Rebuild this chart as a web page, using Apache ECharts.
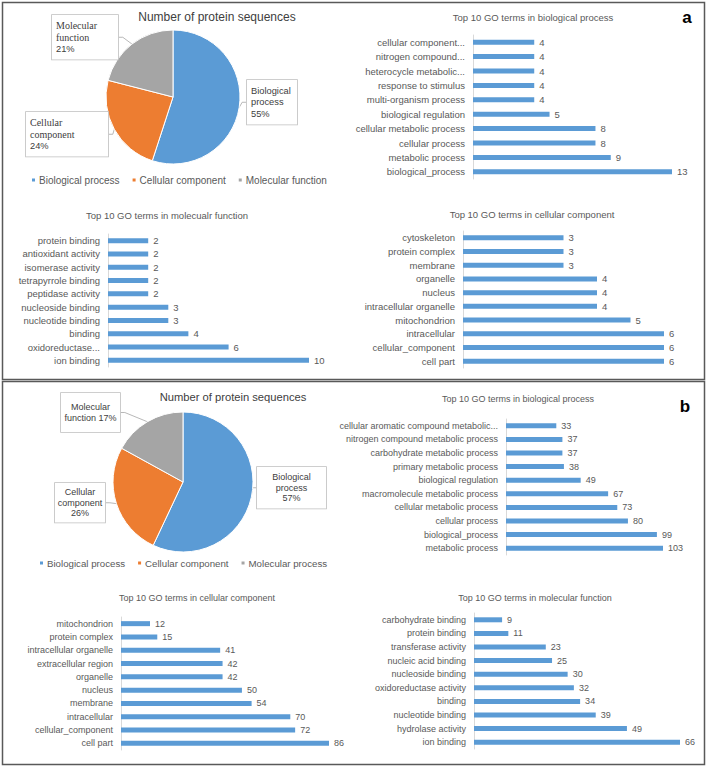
<!DOCTYPE html>
<html><head><meta charset="utf-8">
<script src="https://cdn.jsdelivr.net/npm/echarts@6/dist/echarts.min.js"></script>
<style>html,body{margin:0;padding:0;background:#fff}#c{width:709px;height:768px}</style>
</head><body><div id="c"></div>
<script>
// ---------- data ----------
const pieNamesA = ['Biological process', 'Cellular component', 'Molecular function'];
const pieValuesA = [55, 24, 21];
const pieTextA = ['Biological\nprocess', 'Cellular\ncomponent', 'Molecular\nfunction'];
const pieNamesB = ['Biological process', 'Cellular component', 'Molecular process'];
const pieValuesB = [57, 26, 17];
const pieTextB = ['Biological\nprocess\n', 'Cellular\ncomponent\n', 'Molecular\nfunction '];

const aBPCats = ['cellular component...', 'nitrogen compound...', 'heterocycle metabolic...', 'response to stimulus', 'multi-organism process', 'biological regulation', 'cellular metabolic process', 'cellular process', 'metabolic process', 'biological_process'];
const aBPVals = [4, 4, 4, 4, 4, 5, 8, 8, 9, 13];
const aMFCats = ['protein binding', 'antioxidant activity', 'isomerase activity', 'tetrapyrrole binding', 'peptidase activity', 'nucleoside binding', 'nucleotide binding', 'binding', 'oxidoreductase...', 'ion binding'];
const aMFVals = [2, 2, 2, 2, 2, 3, 3, 4, 6, 10];
const aCCCats = ['cytoskeleton', 'protein complex', 'membrane', 'organelle', 'nucleus', 'intracellular organelle', 'mitochondrion', 'intracellular', 'cellular_component', 'cell part'];
const aCCVals = [3, 3, 3, 4, 4, 4, 5, 6, 6, 6];

const bBPCats = ['cellular aromatic compound metabolic...', 'nitrogen compound metabolic process', 'carbohydrate metabolic process', 'primary metabolic process', 'biological regulation', 'macromolecule metabolic process', 'cellular metabolic process', 'cellular process', 'biological_process', 'metabolic process'];
const bBPVals = [33, 37, 37, 38, 49, 67, 73, 80, 99, 103];
const bCCCats = ['mitochondrion', 'protein complex', 'intracellular organelle', 'extracellular region', 'organelle', 'nucleus', 'membrane', 'intracellular', 'cellular_component', 'cell part'];
const bCCVals = [12, 15, 41, 42, 42, 50, 54, 70, 72, 86];
const bMFCats = ['carbohydrate binding', 'protein binding', 'transferase activity', 'nucleic acid binding', 'nucleoside binding', 'oxidoreductase activity', 'binding', 'nucleotide binding', 'hydrolase activity', 'ion binding'];
const bMFVals = [9, 11, 23, 25, 30, 32, 34, 39, 49, 66];

const titles = {
  pie: 'Number of protein sequences',
  bp: 'Top 10 GO terms in biological process',
  mfA: 'Top 10 GO terms in molecualr function',
  mfB: 'Top 10 GO terms in molecular function',
  cc: 'Top 10 GO terms in cellular component'
};

// ---------- styling / layout ----------
const BLUE = '#5B9BD5', ORANGE = '#ED7D31', GRAY = '#A5A5A5';
const PIE_COLORS = [BLUE, ORANGE, GRAY];
const SANS = '"Liberation Sans", Arial, sans-serif';
const SERIF = '"Liberation Serif", "Times New Roman", serif';
const TXT = '#595959';

const chart = echarts.init(document.getElementById('c'), null, {renderer: 'svg'});

const barPanels = [
  {cats: aBPCats, vals: aBPVals, left: 473, top: 35, width: 199, height: 144, max: 13, fs: 9.5},
  {cats: aMFCats, vals: aMFVals, left: 108, top: 234, width: 201, height: 133, max: 10, fs: 9.5},
  {cats: aCCCats, vals: aCCVals, left: 463, top: 231, width: 201, height: 137, max: 6, fs: 9.5},
  {cats: bBPCats, vals: bBPVals, left: 506, top: 419, width: 157, height: 136, max: 103, fs: 9},
  {cats: bCCCats, vals: bCCVals, left: 121, top: 617, width: 208, height: 133, max: 86, fs: 9},
  {cats: bMFCats, vals: bMFVals, left: 474, top: 613, width: 206, height: 136, max: 66, fs: 9}
];

const grid = [], xAxis = [], yAxis = [], series = [];
barPanels.forEach((p, i) => {
  grid.push({left: p.left, top: p.top, width: p.width, height: p.height, containLabel: false});
  xAxis.push({gridIndex: i, type: 'value', min: 0, max: p.max, show: false});
  yAxis.push({
    gridIndex: i, type: 'category', data: p.cats, inverse: true,
    axisLine: {show: true, lineStyle: {color: '#d9d9d9', width: 1}},
    axisTick: {show: false},
    axisLabel: {color: TXT, fontSize: p.fs, fontFamily: SANS, margin: 8}
  });
  series.push({
    type: 'bar', xAxisIndex: i, yAxisIndex: i, data: p.vals, barWidth: 5,
    itemStyle: {color: BLUE},
    label: {show: true, position: 'right', distance: 5, color: TXT, fontSize: p.fs, fontFamily: SANS},
    silent: true
  });
});

// pie labels
const labelBase = {
  backgroundColor: '#fff', borderColor: '#bfbfbf', borderWidth: 0.8,
  color: '#404040', fontFamily: SANS, fontSize: 9.3, lineHeight: 11.5, overflow: 'none'
};
const pieLayoutA = [
  {x: 247, y: 80, w: 50, align: 'left', pad: [5, 4], serif: false},
  {x: 26, y: 112, w: 82, align: 'left', pad: [5, 4], serif: true},
  {x: 52, y: 15, w: 66, align: 'left', pad: [5, 4], serif: true}
];
const pieLayoutB = [
  {x: 291.5, y: 467, w: 67, align: 'center', pad: [5, 4]},
  {x: 80, y: 483, w: 50, align: 'center', pad: [4, 3]},
  {x: 90.5, y: 393, w: 59, align: 'center', pad: [9, 3]}
];

const pieDataA = pieNamesA.map((n, i) => ({
  name: n, value: pieValuesA[i],
  itemStyle: {color: PIE_COLORS[i]},
  label: Object.assign({}, labelBase, {
    width: pieLayoutA[i].w - 8, padding: pieLayoutA[i].pad, align: 'left',
    formatter: p => pieLayoutA[i].serif
      ? '{t|' + pieTextA[i] + '}\n{s|' + Math.round(p.percent) + '%}'
      : '{s|' + pieTextA[i] + '\n' + Math.round(p.percent) + '%}',
    rich: {
      t: {fontFamily: SERIF, fontSize: 10, lineHeight: 11.5, color: '#404040'},
      s: {fontFamily: SANS, fontSize: 9.3, lineHeight: 11.5, color: '#404040'}
    }
  })
}));
const pieDataB = pieNamesB.map((n, i) => ({
  name: n, value: pieValuesB[i],
  itemStyle: {color: PIE_COLORS[i]},
  label: Object.assign({}, labelBase, {
    width: pieLayoutB[i].w - 6, padding: pieLayoutB[i].pad, align: 'center',
    fontSize: 9, lineHeight: 10.5,
    formatter: p => pieTextB[i] + Math.round(p.percent) + '%'
  })
}));

const pieCommon = {
  type: 'pie', startAngle: 90, clockwise: true, silent: true,
  itemStyle: {borderColor: '#fff', borderWidth: 1},
  label: {show: true, position: 'outside'},
  labelLine: {show: true, length: 6, length2: 4, lineStyle: {color: '#a6a6a6', width: 0.8}},
  emphasis: {disabled: true}
};
series.push(Object.assign({}, pieCommon, {
  name: 'pieA', center: [173, 97], radius: 67, data: pieDataA,
  labelLayout: p => {
    const L = pieLayoutA[p.dataIndex];
    return {x: L.x, y: L.y, align: L.align, verticalAlign: 'top'};
  }
}));
series.push(Object.assign({}, pieCommon, {
  name: 'pieB', center: [183, 482], radius: 70, data: pieDataB,
  labelLayout: p => {
    const L = pieLayoutB[p.dataIndex];
    return {x: L.x, y: L.y, align: L.align, verticalAlign: 'top'};
  }
}));

const legendCommon = {
  icon: 'rect', itemWidth: 5, itemHeight: 5, itemGap: 11, padding: 0,
  textStyle: {color: TXT, fontFamily: SANS, fontSize: 10, padding: [0, 0, 0, -2]},
  selectedMode: false
};

function t(x, y, text, size, color, weight) {
  return {type: 'text', x: x, y: y, silent: true,
    style: {text: text, fill: color || TXT, font: (weight || 'normal') + ' ' + size + 'px ' + SANS,
      textAlign: 'center', textVerticalAlign: 'middle'}};
}

chart.setOption({
  animation: false,
  backgroundColor: '#fff',
  grid: grid, xAxis: xAxis, yAxis: yAxis, series: series,
  legend: [
    Object.assign({}, legendCommon, {data: pieNamesA, left: 30, top: 175}),
    Object.assign({}, legendCommon, {data: pieNamesB, left: 38, top: 558, textStyle: Object.assign({}, legendCommon.textStyle, {fontSize: 9.7})})
  ],
  graphic: [
    {type: 'rect', shape: {x: 2.5, y: 2.5, width: 702, height: 377}, style: {fill: 'none', stroke: '#595959', lineWidth: 1.5}, silent: true},
    {type: 'rect', shape: {x: 2.5, y: 381.5, width: 702, height: 383}, style: {fill: 'none', stroke: '#595959', lineWidth: 1.5}, silent: true},
    t(217, 17, titles.pie, 12, '#404040'),
    t(533, 17, titles.bp, 9.5),
    t(167, 215, titles.mfA, 9.5),
    t(532, 214, titles.cc, 9.5),
    t(233, 397, titles.pie, 11.2, '#404040'),
    t(518, 399, titles.bp, 9),
    t(197, 598, titles.cc, 9),
    t(535, 598, titles.mfB, 9),
    t(687, 17, 'a', 17, '#000', 'bold'),
    t(685, 406, 'b', 17, '#000', 'bold')
  ]
});
</script>
</body></html>
